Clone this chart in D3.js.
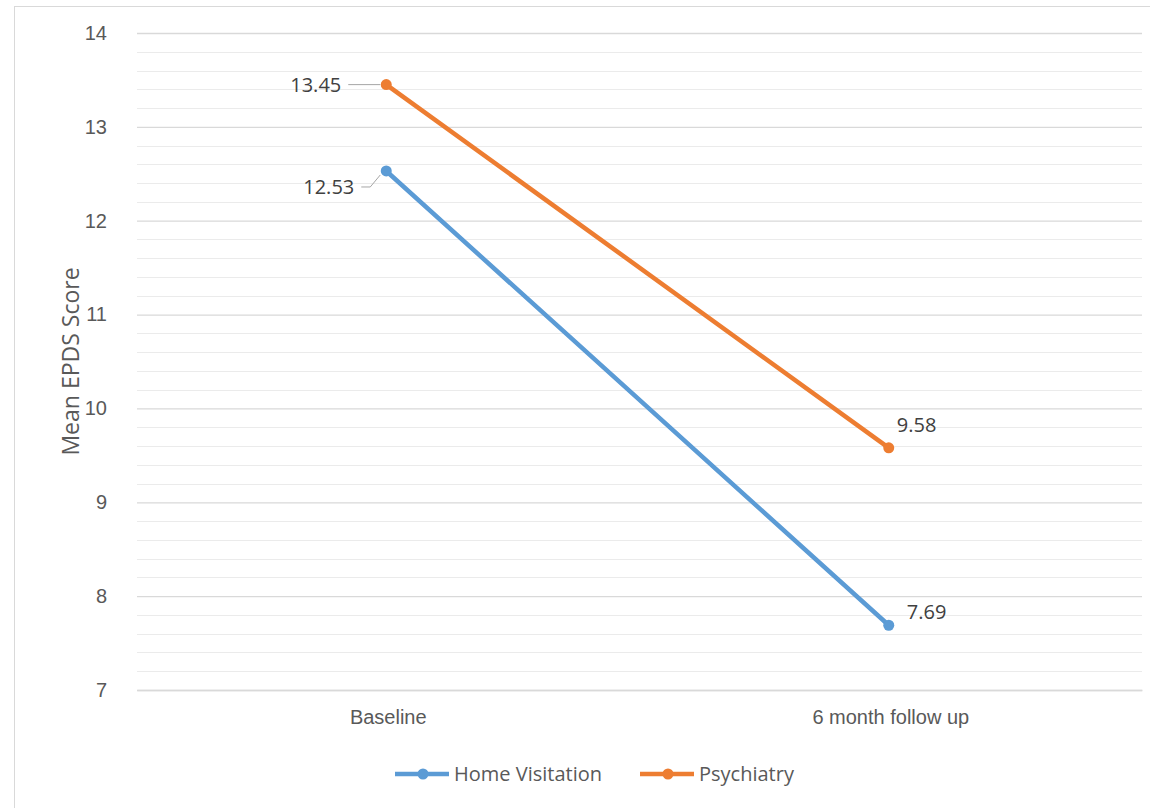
<!DOCTYPE html>
<html>
<head>
<meta charset="utf-8">
<script src="https://cdn.jsdelivr.net/npm/d3@7/dist/d3.min.js"></script>
<style>
  html, body { margin: 0; padding: 0; background: #fff; }
  svg { display: block; font-family: "Open Sans", "Liberation Sans", sans-serif; }
</style>
</head>
<body>
<svg id="chart" width="1150" height="808"></svg>
<script>
// Mean EPDS scores by group, at baseline and at the 6 month follow up
const categories = ["Baseline", "6 month follow up"];
const seriesNames = ["Home Visitation", "Psychiatry"];
const homeVisitation = [12.53, 7.69];
const psychiatry = [13.45, 9.58];
const yTicks = [7, 8, 9, 10, 11, 12, 13, 14];
const colors = ["#5B9BD5", "#ED7D31"];

const svg = d3.select("#chart");
const W = 1150, H = 808;
const plot = { left: 137, right: 1142, top: 33, bottom: 690 };
const FS = 20;

// outer chart border
svg.append("rect")
  .attr("x", 14.5).attr("y", 6.5)
  .attr("width", W + 10).attr("height", H + 10)
  .attr("fill", "#fff").attr("stroke", "#d9d9d9").attr("stroke-width", 1);

const x = d3.scaleBand().domain(categories).range([plot.left, plot.right]);
const y = d3.scaleLinear().domain([7, 14]).range([plot.bottom, plot.top]);

// minor gridlines every 0.2
const minor = d3.range(7.2, 14, 0.2).filter(v => Math.abs(v - Math.round(v)) > 1e-6);
svg.append("g").selectAll("line").data(minor).join("line")
  .attr("x1", plot.left).attr("x2", plot.right)
  .attr("y1", d => Math.round(y(d)) + 0.5).attr("y2", d => Math.round(y(d)) + 0.5)
  .attr("stroke", "#ebebeb").attr("stroke-width", 1);

// major gridlines and tick labels
const yAxis = d3.axisLeft(y).tickValues(yTicks).tickSize(-(plot.right - plot.left)).tickPadding(30).tickFormat(d3.format("d"));
const gy = svg.append("g").attr("transform", `translate(${plot.left},0)`).call(yAxis);
gy.select(".domain").remove();
gy.selectAll(".tick line").attr("stroke", "#d9d9d9").attr("stroke-width", 1.3);
gy.selectAll(".tick text").attr("fill", "#595959").attr("font-size", FS);

// category axis
const gx = svg.append("g").attr("transform", `translate(0,${plot.bottom})`)
  .call(d3.axisBottom(x).tickSize(0).tickPadding(20));
gx.select(".domain").attr("stroke", "#d9d9d9").attr("stroke-width", 1.3);
gx.selectAll(".tick text").attr("fill", "#595959").attr("font-size", FS);

// y axis title
svg.append("text")
  .attr("transform", `translate(79,${(plot.top + plot.bottom) / 2}) rotate(-90)`)
  .attr("text-anchor", "middle").attr("fill", "#595959").attr("font-size", 23)
  .text("Mean EPDS Score");

const series = [homeVisitation, psychiatry];
const cx = c => x(c) + x.bandwidth() / 2 - 2;
const line = d3.line().x((d, i) => cx(categories[i])).y(d => y(d));

series.forEach((vals, s) => {
  svg.append("path").datum(vals)
    .attr("d", line).attr("fill", "none")
    .attr("stroke", colors[s]).attr("stroke-width", 4.5).attr("stroke-linecap", "round");
  svg.append("g").selectAll("circle").data(vals).join("circle")
    .attr("cx", (d, i) => cx(categories[i])).attr("cy", d => y(d))
    .attr("r", 5.5).attr("fill", colors[s]);
});

// data labels
const fmt = d3.format(".2f");
const lbl = svg.append("g").attr("fill", "#404040").attr("font-size", FS);
// baseline labels sit left of the point, joined by a leader line
const bx = cx(categories[0]);
lbl.append("line")
  .attr("x1", bx - 38).attr("x2", bx - 6)
  .attr("y1", y(psychiatry[0])).attr("y2", y(psychiatry[0]))
  .attr("stroke", "#a6a6a6").attr("stroke-width", 1);
lbl.append("text").attr("x", bx - 45).attr("y", y(psychiatry[0]) + 7)
  .attr("text-anchor", "end").text(fmt(psychiatry[0]));
lbl.append("polyline")
  .attr("points", `${bx - 25},${y(homeVisitation[0]) + 16} ${bx - 16},${y(homeVisitation[0]) + 16} ${bx - 6},${y(homeVisitation[0]) + 4}`)
  .attr("fill", "none").attr("stroke", "#a6a6a6").attr("stroke-width", 1);
lbl.append("text").attr("x", bx - 32).attr("y", y(homeVisitation[0]) + 23)
  .attr("text-anchor", "end").text(fmt(homeVisitation[0]));
// follow-up labels sit right of / above the point
const fx = cx(categories[1]);
lbl.append("text").attr("x", fx + 8).attr("y", y(psychiatry[1]) - 16).text(fmt(psychiatry[1]));
lbl.append("text").attr("x", fx + 18).attr("y", y(homeVisitation[1]) - 6).text(fmt(homeVisitation[1]));

// legend
const legend = svg.append("g").attr("transform", "translate(395,774)");
const items = [{ name: seriesNames[0], c: colors[0], dx: 0 }, { name: seriesNames[1], c: colors[1], dx: 245 }];
items.forEach(it => {
  const g = legend.append("g").attr("transform", `translate(${it.dx},0)`);
  g.append("line").attr("x1", 0).attr("x2", 54).attr("y1", 0).attr("y2", 0)
    .attr("stroke", it.c).attr("stroke-width", 4.5);
  g.append("circle").attr("cx", 28).attr("cy", 0).attr("r", 5.5).attr("fill", it.c);
  g.append("text").attr("x", 59).attr("y", 7).attr("fill", "#595959").attr("font-size", FS).text(it.name);
});
</script>
</body>
</html>
